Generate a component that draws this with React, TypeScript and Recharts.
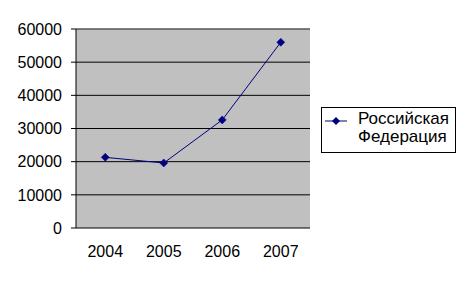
import React from 'react';
import { LineChart, Line, XAxis, YAxis, CartesianGrid, ReferenceLine } from 'recharts';

const categories = ['2004', '2005', '2006', '2007'];
const seriesName = 'Российская Федерация';
const values = [21300, 19600, 32600, 56000];
const yTicks = [0, 10000, 20000, 30000, 40000, 50000, 60000];

const data = categories.map((c, i) => ({ year: c, value: values[i] }));
const edgeTicks = [...categories.map((_, i) => i), categories.length];

const FONT = 'Arial, "Liberation Sans", sans-serif';
const NAVY = '#000080';

const Diamond = (props: any) => {
  const { cx, cy } = props;
  if (cx == null || cy == null) return null;
  return <path d={`M${cx},${cy - 4}L${cx + 4},${cy}L${cx},${cy + 4}L${cx - 4},${cy}Z`} fill={NAVY} stroke={NAVY} strokeWidth={0.5} />;
};

const LegendBox = () => (
  <div style={{ position: 'absolute', left: 321, top: 107, width: 133, height: 44, border: '1px solid #000', background: '#fff', fontFamily: FONT }}>
    <svg width={26} height={10} style={{ position: 'absolute', left: 3, top: 8 }}>
      <line x1={0} y1={5} x2={22} y2={5} stroke={NAVY} strokeWidth={1} />
      <path d="M11,1L15,5L11,9L7,5Z" fill={NAVY} />
    </svg>
    <div style={{ position: 'absolute', left: 36, top: 2, width: 97, fontSize: 17, lineHeight: '18px', color: '#000', whiteSpace: 'normal' }}>
      {seriesName}
    </div>
  </div>
);

export default function App() {
  return (
    <div style={{ position: 'absolute', left: 0, top: 0, width: 468, height: 283, background: '#fff' }}>
      <LineChart width={468} height={283} data={data} margin={{ top: 29, right: 158, left: 0, bottom: 0 }}>
        <CartesianGrid xAxisId="cat" yAxisId="y" vertical={false} stroke="#000" fill="#C0C0C0" fillOpacity={1} />
        <XAxis
          xAxisId="edge"
          type="number"
          domain={[0, categories.length]}
          ticks={edgeTicks}
          tickFormatter={() => ''}
          height={0}
          tickSize={6}
          axisLine={{ stroke: '#000' }}
          tickLine={{ stroke: '#000' }}
          allowDataOverflow
        />
        <XAxis
          xAxisId="cat"
          dataKey="year"
          scale="band"
          height={55}
          axisLine={false}
          tickLine={false}
          tickSize={0}
          tickMargin={18}
          tick={{ fill: '#000', fontSize: 16, fontFamily: FONT }}
          interval={0}
        />
        <YAxis
          yAxisId="y"
          width={76}
          domain={[0, 60000]}
          ticks={yTicks}
          tickSize={5}
          tickMargin={9}
          axisLine={{ stroke: '#000' }}
          tickLine={{ stroke: '#000' }}
          tick={{ fill: '#000', fontSize: 16, fontFamily: FONT }}
          interval={0}
        />
        <ReferenceLine xAxisId="cat" yAxisId="y" y={60000} stroke="#808080" />
        <ReferenceLine xAxisId="edge" yAxisId="y" x={categories.length} stroke="#808080" />
        <Line
          xAxisId="cat"
          yAxisId="y"
          dataKey="value"
          name={seriesName}
          stroke={NAVY}
          strokeWidth={1}
          dot={<Diamond />}
          activeDot={false}
          isAnimationActive={false}
        />
      </LineChart>
      <LegendBox />
    </div>
  );
}
